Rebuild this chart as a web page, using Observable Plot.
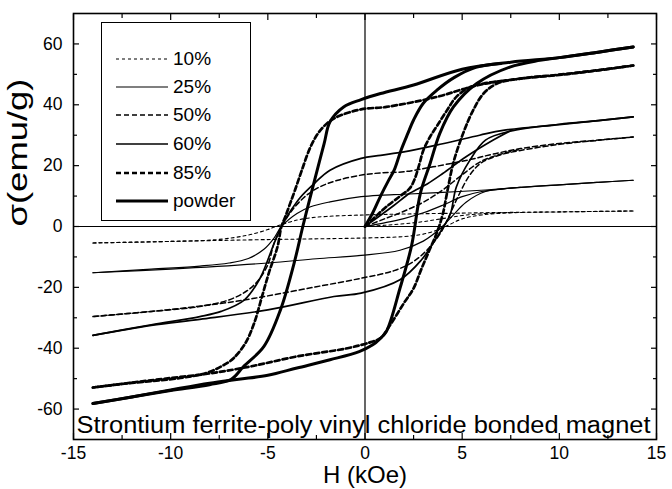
<!DOCTYPE html>
<html><head><meta charset="utf-8">
<script src="https://cdn.jsdelivr.net/npm/d3@7"></script>
<script src="https://cdn.jsdelivr.net/npm/@observablehq/plot@0.6"></script>
<style>
body{margin:0;background:#fff;}
#wrap{position:relative;width:672px;height:489px;font-family:"Liberation Sans",Arial,sans-serif;}
#legend{position:absolute;left:101px;top:22px;width:150px;height:199px;border:1.4px solid #000;box-sizing:border-box;background:#fff;}
.row{position:absolute;left:13px;height:22px;display:flex;align-items:center;font-size:19px;color:#000;}
.row svg{margin-right:4px;}
</style></head><body><div id="wrap"></div>
<script>
// ---- data: [H (kOe), sigma (emu/g)] per branch ----
const seriesNames = ["10%", "25%", "50%", "60%", "85%", "powder"];

const init10 = [[0,0],[1,0.4],[2,0.9],[3,1.6],[4,2.6],[5,3.6],[6,4.2],[7,4.5],[8,4.6]];
const down10 = [[13.8,5.1],[10,4.8],[7,4.6],[5,4.4],[2,4.1],[0,3.8],[-2,3.3],[-3,2.7],[-3.7,1.8],[-4.2,0.8],[-4.6,0],[-5,-1],[-6,-2.8],[-7.6,-4.3],[-10,-4.9],[-14,-5.4]];
const up10 = [[-14,-5.4],[-10,-4.9],[-6,-4.4],[-3,-4.1],[-0.2,-3.8],[2,-3.3],[3,-2.5],[3.8,-1],[4.4,0.8],[5,2.5],[6,3.8],[7.5,4.5],[10,4.8],[13.8,5.1]];

const init25 = [[0,0],[1,1.2],[2,2.6],[3,4.5],[4,7],[5,9.8],[6,11.5],[7,12.3],[8,12.9]];
const down25 = [[13.8,15.2],[12,14.5],[10,13.7],[7.5,12.6],[6.2,12],[4,11.2],[2,10.6],[0.8,10.3],[-0.2,9.8],[-1.8,8.1],[-2.8,6.5],[-3.5,4.3],[-4.3,0],[-4.7,-4],[-5.2,-7.5],[-6,-10.5],[-7,-12],[-8.5,-13],[-11,-14],[-14,-15.2]];
const up25 = [[-14,-15.2],[-10,-14],[-5,-12],[-2.5,-10.6],[-0.2,-9.5],[1.8,-7.8],[3,-4.8],[3.9,-0.5],[4.5,3.5],[5.2,8],[6.2,11.5],[7.5,12.6],[10,13.7],[12,14.5],[13.8,15.2]];

const init50 = [[0,0],[1,2.5],[2,5],[3,8],[4,12],[5,17],[6,21.5],[7,23.8],[8,25.4]];
const down50 = [[13.8,29.4],[12,28.4],[10,27.3],[8,25.6],[6.6,23.8],[5.4,22],[3.5,19.6],[2,18],[0.8,17.6],[-0.1,17],[-1.4,15.2],[-2.3,13.1],[-3,10.3],[-3.6,6.5],[-4.1,2.1],[-4.4,-1.5],[-4.7,-5.9],[-5,-12.6],[-5.7,-19.2],[-6.75,-23.5],[-8.5,-26.3],[-11,-27.9],[-14,-29.6]];
const up50 = [[-14,-29.6],[-10.2,-27.4],[-6.75,-24.7],[-5,-22.8],[-2.5,-19.8],[-0.2,-17],[1.5,-14.5],[2.5,-11.5],[3.3,-7],[3.9,-2],[4.3,3],[4.8,10],[5.4,17],[6,21],[7,23.6],[8,25],[10,27],[12,28.3],[13.8,29.4]];

const init60 = [[0,0],[0.5,2.3],[1.5,7],[2.3,10.9],[3.2,14],[4,17.4],[5.2,22.9],[6.6,28.4],[7.5,31.5]];
const down60 = [[13.8,36],[12,34.8],[10,33.5],[7.1,31.6],[5.9,30],[4,27.2],[2,24.5],[0.8,23.4],[-0.2,22.4],[-1.8,18.5],[-2.6,14.2],[-3.3,9.8],[-3.8,5.4],[-4.3,0],[-4.7,-5.9],[-5.4,-17],[-6.2,-24.1],[-7.4,-27.9],[-8.5,-29.6],[-11,-32.3],[-14,-35.8]];
const up60 = [[-14,-35.8],[-11,-32.5],[-8.5,-30.5],[-5,-27.4],[-1.6,-23],[-0.2,-21.9],[1.8,-17.5],[2.9,-11],[3.5,-5.5],[4.05,0],[4.4,4.3],[4.7,13],[5.4,21.8],[6.2,28.4],[7.45,31.3],[10,33.6],[12,34.8],[13.8,36]];

const init85 = [[0,0],[0.5,3],[1.1,6.5],[2,10.9],[2.3,12.5],[2.55,15.5],[2.8,20.5],[3,25],[3.35,29.5],[3.7,33],[4.2,38],[4.7,42.6],[5.4,45.8],[6.1,47],[7,47.8]];
const down85 = [[13.8,52.9],[12,51.3],[10,49.8],[8,48.6],[6.6,47.4],[5.4,45.8],[3.7,42.6],[1.1,39.3],[-0.2,38.5],[-1.6,35.5],[-2.3,31.6],[-2.8,26.2],[-3.25,18.5],[-3.6,12],[-3.85,7.6],[-4.1,3.2],[-4.3,0],[-4.5,-6.6],[-4.95,-15.3],[-5.3,-23],[-5.7,-31.7],[-6.15,-38.3],[-6.75,-43.2],[-7.1,-44.9],[-8.1,-48],[-9.5,-49.8],[-12,-51.4],[-14,-52.9]];
const up85 = [[-14,-52.9],[-12,-51.3],[-10,-49.8],[-8,-48.3],[-5.9,-46],[-3.5,-42.7],[-0.9,-40],[0.3,-38],[0.8,-36.7],[1.3,-32.3],[2,-25.2],[2.5,-20.3],[2.9,-14],[3.3,-8],[3.7,-2],[4,4],[4.25,12],[4.55,21],[5.05,30.6],[5.55,38],[6.1,43.7],[6.8,47],[8,48.6],[10,49.9],[12,51.4],[13.8,52.9]];

const initP = [[0,0],[0.4,4.5],[0.8,10],[1.2,15],[1.5,18.5],[1.85,25],[2.2,30.5],[2.5,35],[3,40.5],[3.7,44.8],[4.6,49],[5.7,52.3],[7,53.6]];
const downP = [[13.8,59],[12,57.3],[10,55.5],[7.5,54],[5,51.7],[2.5,46.5],[0.8,43.7],[-0.2,41.7],[-1.1,39.3],[-1.8,34.4],[-2.1,27.3],[-2.55,16.3],[-2.9,7.6],[-3.2,0],[-3.65,-12.1],[-4.35,-27.4],[-5.2,-39.4],[-6.25,-46],[-6.9,-50.3],[-8,-52],[-10,-53.9],[-12,-56],[-14,-58.2]];
const upP = [[-14,-58.2],[-12,-56],[-10,-53.7],[-8,-51.5],[-6.5,-50.2],[-5,-48.9],[-3.5,-46.5],[-1.8,-43.8],[-0.3,-41.1],[0.4,-38.9],[0.75,-37],[1.1,-34.5],[1.8,-20.3],[2.4,-6.2],[2.85,10.9],[3.35,20.7],[3.85,30.6],[4.55,39.3],[5.75,47],[7.45,52.4],[9,54.6],[10,55.5],[12,57.3],[13.8,59]];

const xMajor = [-15, -10, -5, 0, 5, 10, 15];
const xMinor = [-12.5, -7.5, -2.5, 2.5, 7.5, 12.5];
const yMajor = [-60, -40, -20, 0, 20, 40, 60];
const yMinor = [-50, -30, -10, 10, 30, 50];
const xTitle = "H (kOe)";
const yTitle = "σ(emu/g)";
const caption = "Strontium ferrite-poly vinyl chloride bonded magnet";

// ---- styles ----
const branches = {
  "10%": [init10, down10, up10], "25%": [init25, down25, up25], "50%": [init50, down50, up50],
  "60%": [init60, down60, up60], "85%": [init85, down85, up85], "powder": [initP, downP, upP]
};
const styles = {
  "10%": {w: 1.1, dash: "3,3"}, "25%": {w: 1.2, dash: null}, "50%": {w: 1.5, dash: "5,3"},
  "60%": {w: 1.7, dash: null}, "85%": {w: 2.7, dash: "5,3"}, "powder": {w: 3, dash: null}
};

const rows = [];
for (const name of seriesNames) {
  branches[name].forEach((b, i) => b.forEach(([H, M]) => rows.push({series: name, branch: i, H, M})));
}

const font = "'Liberation Sans', Arial, sans-serif";
const tickAxes = [];
for (const anchor of ["bottom", "top"]) {
  tickAxes.push(Plot.axisX(xMajor, {anchor, tickSize: -6, tickPadding: anchor === "bottom" ? 13 : 0, tickFormat: anchor === "bottom" ? (d => d) : (() => ""), label: null, strokeWidth: 1.2}));
  tickAxes.push(Plot.axisX(xMinor, {anchor, tickSize: -4, tickFormat: () => "", label: null, strokeWidth: 1.2}));
}
for (const anchor of ["left", "right"]) {
  tickAxes.push(Plot.axisY(yMajor, {anchor, tickSize: -6, tickPadding: anchor === "left" ? 17 : 0, tickFormat: anchor === "left" ? (d => d) : (() => ""), label: null, strokeWidth: 1.2}));
  tickAxes.push(Plot.axisY(yMinor, {anchor, tickSize: -4, tickFormat: () => "", label: null, strokeWidth: 1.2}));
}

const chart = Plot.plot({
  width: 672, height: 489,
  marginLeft: 73, marginRight: 16, marginTop: 13, marginBottom: 50,
  style: {fontFamily: font, fontSize: "17.5px", color: "#000", background: "#fff"},
  x: {domain: [-15, 15]},
  y: {domain: [-70, 70]},
  marks: [
    Plot.ruleY([0], {stroke: "#000", strokeWidth: 1.2}),
    Plot.ruleX([0], {stroke: "#000", strokeWidth: 1.2}),
    ...seriesNames.map(name => Plot.line(rows.filter(r => r.series === name), {
      x: "H", y: "M", z: "branch", stroke: "#000",
      strokeWidth: styles[name].w, strokeDasharray: styles[name].dash, curve: "catmull-rom"
    })),
    ...tickAxes,
    Plot.frame({stroke: "#000", strokeWidth: 1.6}),
    Plot.text([caption], {frameAnchor: "bottom-left", textAnchor: "start", lineAnchor: "bottom", dx: 3, dy: -7, fontSize: 23, fill: "#000", className: "cap"}),
    Plot.text([xTitle], {frameAnchor: "bottom", lineAnchor: "middle", dy: 36, fontSize: 24, fill: "#000"}),
    Plot.text([yTitle], {frameAnchor: "left", rotate: -90, dx: -55, fontSize: 27, fill: "#000", className: "ytitle"})
  ]
});
const wrap = document.getElementById("wrap");
wrap.appendChild(chart);
// stretch wide texts to the reference's widths
d3.select(chart).selectAll(".cap text").attr("textLength", 574).attr("lengthAdjust", "spacingAndGlyphs");
d3.select(chart).selectAll(".ytitle text").attr("textLength", 148).attr("lengthAdjust", "spacingAndGlyphs");

// legend
const legend = document.createElement("div");
legend.id = "legend";
const rowTops = [36, 64, 92, 121, 150, 178];
seriesNames.forEach((name, i) => {
  const r = document.createElement("div");
  r.className = "row";
  r.style.top = (rowTops[i] - 11) + "px";
  const s = styles[name];
  r.innerHTML = `<svg width="54" height="12"><line x1="1" x2="53" y1="6" y2="6" stroke="#000" stroke-width="${s.w}" ${s.dash ? `stroke-dasharray="${s.dash}"` : ""}/></svg><span>${name}</span>`;
  legend.appendChild(r);
});
wrap.appendChild(legend);
</script></body></html>
